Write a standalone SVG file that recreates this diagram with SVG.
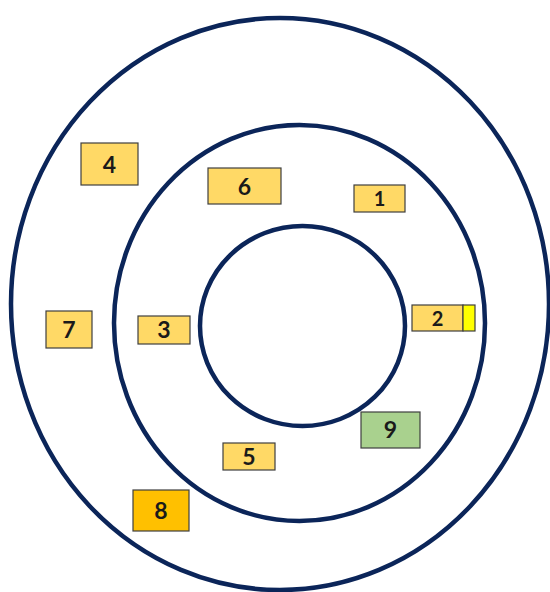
<svg xmlns="http://www.w3.org/2000/svg" width="550" height="592" viewBox="0 0 550 592">
<style>
.ring{fill:none;stroke:#0B2559;stroke-width:4.5}
.box{fill:#FFD966;stroke:#3F3F3F;stroke-width:1.2}
.lbl{font-family:Lato,"Open Sans","Liberation Sans",sans-serif;font-weight:bold;font-size:23px;fill:#1a1a1a;text-anchor:middle}
.sm{font-size:20px}
</style>
<rect width="550" height="592" fill="#ffffff"/>
<g id="rings">
<ellipse class="ring" cx="280" cy="304" rx="269" ry="286"/>
<ellipse class="ring" cx="299.5" cy="323" rx="185.5" ry="198"/>
<ellipse class="ring" cx="302.5" cy="326" rx="102.5" ry="100"/>
</g>
<g id="n4"><rect class="box" x="81" y="143" width="57" height="42"/><text class="lbl" x="109.5" y="172.5">4</text></g>
<g id="n6"><rect class="box" x="208" y="168" width="73" height="36"/><text class="lbl" x="244.5" y="194.5">6</text></g>
<g id="n1"><rect class="box" x="354" y="185" width="51" height="27"/><text class="lbl sm" x="379.5" y="206">1</text></g>
<g id="n2"><rect class="box" x="412" y="305" width="51" height="26"/><rect x="463" y="305" width="12" height="26" fill="#FFFF00" stroke="#3F3F3F" stroke-width="1.2"/><text class="lbl sm" x="437.5" y="325.5">2</text></g>
<g id="n7"><rect class="box" x="46" y="311" width="46" height="37"/><text class="lbl" x="69" y="337.5">7</text></g>
<g id="n3"><rect class="box" x="138" y="316" width="52" height="28"/><text class="lbl" x="164" y="338">3</text></g>
<g id="n9"><rect x="361" y="412" width="59" height="36" fill="#A9D18E" stroke="#3F3F3F" stroke-width="1.2"/><text class="lbl" x="390.5" y="438">9</text></g>
<g id="n5"><rect class="box" x="223" y="443" width="52" height="27"/><text class="lbl" x="249" y="464.5">5</text></g>
<g id="n8"><rect x="133" y="490" width="56" height="41" fill="#FFC000" stroke="#3F3F3F" stroke-width="1.2"/><text class="lbl" x="161" y="519">8</text></g>
<g id="connectors"/>
</svg>
